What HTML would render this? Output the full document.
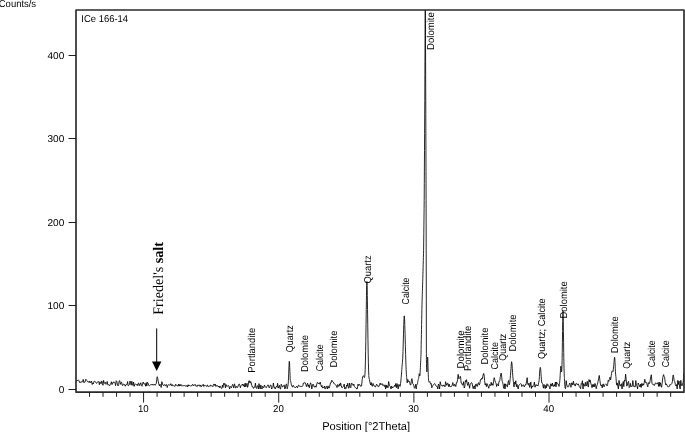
<!DOCTYPE html>
<html><head><meta charset="utf-8"><title>XRD ICe 166-14</title>
<style>
html,body{margin:0;padding:0;background:#fff;overflow:hidden}
svg{display:block}
text{font-family:"Liberation Sans",Arial,sans-serif;font-size:10px;fill:#000;text-rendering:geometricPrecision}
.ax{font-size:11.4px}
.pk{font-size:10px}
.tk{font-size:9.9px}
.fs{font-family:"Liberation Serif","Times New Roman",serif;font-size:14.6px;fill:#000}
</style></head><body>
<svg width="685" height="432" viewBox="0 0 685 432">
<rect width="685" height="432" fill="#fff"/>
<defs><clipPath id="c"><rect x="76" y="10" width="608" height="382.5"/></clipPath></defs>
<g clip-path="url(#c)"><path d="M76.00,380.19 L76.60,381.24 L77.20,380.47 L77.80,380.47 L78.40,379.84 L79.00,380.84 L79.60,382.60 L80.20,381.84 L80.80,382.66 L81.40,381.71 L82.00,381.94 L82.60,381.71 L83.20,379.36 L83.80,382.66 L84.40,382.25 L85.00,382.29 L85.60,379.44 L86.20,379.40 L86.80,380.57 L87.40,381.16 L88.00,382.25 L88.60,381.81 L89.20,382.62 L89.80,381.07 L90.40,382.42 L91.00,382.58 L91.60,381.15 L92.20,384.52 L92.80,382.94 L93.40,383.89 L94.00,381.35 L94.60,381.21 L95.20,381.83 L95.80,382.25 L96.40,383.40 L97.00,382.92 L97.60,381.98 L98.20,381.30 L98.80,382.02 L99.40,384.69 L100.00,381.74 L100.60,383.40 L101.20,383.75 L101.80,380.95 L102.40,383.33 L103.00,385.30 L103.60,380.40 L104.20,383.01 L104.80,383.41 L105.40,382.38 L106.00,384.36 L106.60,383.53 L107.20,381.43 L107.80,384.88 L108.40,384.65 L109.00,385.07 L109.60,385.82 L110.20,384.21 L110.80,383.86 L111.40,381.74 L112.00,384.62 L112.60,382.78 L113.20,383.03 L113.80,381.82 L114.40,382.27 L115.00,382.94 L115.60,385.67 L116.20,380.70 L116.80,381.57 L117.40,384.12 L118.00,385.94 L118.60,384.65 L119.20,380.94 L119.80,380.60 L120.40,384.34 L121.00,382.71 L121.60,382.14 L122.20,385.30 L122.80,385.49 L123.40,384.08 L124.00,384.22 L124.60,384.51 L125.20,386.26 L125.80,384.81 L126.40,384.66 L127.00,384.71 L127.60,381.55 L128.20,385.83 L128.80,385.35 L129.40,384.72 L130.00,380.97 L130.60,382.99 L131.20,385.21 L131.80,381.24 L132.40,383.69 L133.00,385.50 L133.60,382.01 L134.20,386.40 L134.80,384.83 L135.40,383.78 L136.00,384.50 L136.60,385.00 L137.20,384.21 L137.80,385.76 L138.40,383.05 L139.00,383.43 L139.60,385.62 L140.20,384.11 L140.80,382.76 L141.40,385.51 L142.00,386.29 L142.60,383.43 L143.20,382.04 L143.80,383.92 L144.40,383.90 L145.00,383.69 L145.60,386.25 L146.20,382.61 L146.80,386.05 L147.40,382.26 L148.00,382.99 L148.60,385.13 L149.20,385.88 L149.80,385.49 L150.40,384.74 L151.00,384.47 L151.60,384.51 L152.20,385.18 L152.80,384.09 L153.40,384.74 L154.00,385.19 L154.60,384.32 L155.20,385.31 L155.80,384.13 L156.40,383.14 L157.00,377.34 L157.20,376.68 L157.60,377.48 L158.20,381.31 L158.80,383.91 L159.40,385.87 L160.00,384.13 L160.60,385.27 L161.20,387.50 L161.80,381.63 L162.40,383.18 L163.00,385.26 L163.60,385.50 L164.20,385.29 L164.80,384.41 L165.40,385.86 L166.00,385.40 L166.60,384.48 L167.20,387.50 L167.80,385.54 L168.40,384.64 L169.00,385.13 L169.60,385.06 L170.20,385.24 L170.80,383.66 L171.40,385.01 L172.00,386.08 L172.60,384.61 L173.20,385.36 L173.80,386.05 L174.40,385.99 L175.00,386.42 L175.60,384.27 L176.20,385.18 L176.80,385.19 L177.40,385.85 L178.00,386.17 L178.60,383.99 L179.20,386.17 L179.80,384.46 L180.40,385.90 L181.00,384.44 L181.60,385.57 L182.20,386.26 L182.80,385.35 L183.40,385.59 L184.00,386.00 L184.60,385.56 L185.20,385.41 L185.80,386.50 L186.40,386.18 L187.00,385.28 L187.60,386.92 L188.20,384.71 L188.80,386.10 L189.40,385.31 L190.00,385.58 L190.60,385.97 L191.20,385.65 L191.80,385.93 L192.40,384.47 L193.00,384.49 L193.60,385.92 L194.20,384.86 L194.80,384.82 L195.40,384.52 L196.00,386.37 L196.60,386.03 L197.20,386.52 L197.80,384.90 L198.40,385.53 L199.00,384.77 L199.60,386.06 L200.20,386.61 L200.80,384.94 L201.40,386.60 L202.00,386.22 L202.60,385.43 L203.20,384.22 L203.80,386.51 L204.40,385.50 L205.00,385.16 L205.60,385.84 L206.20,385.85 L206.80,386.59 L207.40,384.89 L208.00,386.35 L208.60,386.59 L209.20,386.57 L209.80,385.47 L210.40,385.09 L211.00,386.28 L211.60,385.68 L212.20,385.70 L212.80,386.70 L213.40,385.47 L214.00,383.92 L214.60,385.40 L215.20,384.03 L215.80,386.61 L216.40,386.17 L217.00,385.20 L217.60,385.89 L218.20,386.92 L218.80,386.06 L219.40,387.70 L220.00,385.95 L220.60,387.50 L221.20,388.23 L221.80,388.52 L222.40,385.15 L223.00,387.51 L223.60,383.40 L224.20,384.63 L224.80,383.33 L225.40,387.91 L226.00,384.44 L226.60,386.29 L227.20,386.02 L227.80,386.27 L228.40,385.41 L229.00,386.67 L229.60,389.00 L230.20,386.38 L230.80,387.12 L231.40,387.84 L232.00,386.02 L232.60,384.40 L233.20,385.48 L233.80,387.97 L234.40,383.81 L235.00,385.42 L235.60,387.87 L236.20,387.55 L236.80,386.35 L237.40,387.57 L238.00,386.59 L238.60,384.53 L239.20,383.94 L239.80,385.36 L240.40,387.77 L241.00,385.48 L241.60,384.96 L242.20,385.16 L242.80,383.99 L243.40,386.18 L244.00,384.53 L244.60,386.92 L245.20,383.05 L245.80,386.85 L246.40,385.33 L247.00,383.30 L247.60,387.33 L248.20,385.28 L248.80,380.84 L249.40,380.80 L250.00,383.13 L250.60,381.43 L251.00,381.87 L251.20,382.81 L251.80,385.50 L252.40,386.97 L253.00,386.77 L253.60,388.42 L254.20,387.39 L254.80,387.10 L255.40,383.11 L256.00,387.81 L256.60,388.46 L257.20,385.93 L257.80,385.66 L258.40,389.00 L259.00,383.62 L259.60,387.15 L260.20,389.00 L260.80,384.94 L261.40,387.51 L262.00,389.00 L262.60,386.22 L263.20,387.31 L263.80,387.86 L264.40,384.98 L265.00,386.28 L265.60,386.89 L266.20,387.75 L266.80,386.37 L267.40,386.12 L268.00,384.81 L268.60,385.86 L269.20,387.87 L269.80,386.60 L270.40,385.07 L271.00,385.09 L271.60,389.00 L272.20,388.28 L272.80,387.47 L273.40,383.01 L274.00,387.45 L274.60,387.23 L275.20,389.00 L275.80,387.15 L276.40,386.35 L277.00,387.31 L277.60,383.31 L278.20,388.14 L278.80,386.99 L279.40,385.33 L280.00,388.63 L280.60,389.00 L281.20,384.19 L281.80,385.39 L282.40,386.95 L283.00,386.78 L283.60,385.83 L284.20,384.89 L284.80,389.00 L285.40,388.19 L286.00,384.36 L286.60,384.04 L287.20,388.78 L287.50,387.87 L287.65,387.24 L287.80,386.40 L287.95,385.82 L288.10,384.75 L288.25,383.07 L288.40,380.71 L288.55,377.17 L288.70,373.23 L288.85,369.20 L289.00,365.52 L289.15,362.65 L289.30,361.37 L289.45,361.95 L289.60,364.04 L289.75,367.63 L289.90,371.55 L290.05,375.36 L290.20,378.77 L290.35,380.45 L290.50,381.40 L290.65,381.72 L290.80,381.57 L290.95,382.58 L291.10,383.42 L291.40,384.83 L292.00,386.15 L292.60,387.19 L293.20,385.30 L293.80,386.30 L294.40,387.27 L295.00,387.14 L295.60,387.57 L296.20,386.86 L296.80,385.97 L297.40,387.83 L298.00,386.59 L298.60,385.12 L299.20,385.46 L299.80,386.51 L300.40,386.29 L301.00,386.73 L301.60,386.44 L302.20,386.67 L302.80,385.85 L303.40,383.02 L304.00,383.52 L304.60,382.53 L304.70,382.33 L305.20,382.74 L305.80,384.13 L306.40,386.60 L307.00,384.68 L307.60,383.19 L308.20,386.57 L308.80,384.85 L309.40,387.73 L310.00,384.62 L310.60,382.80 L311.20,384.68 L311.80,389.00 L312.40,385.79 L313.00,384.06 L313.60,385.05 L314.20,387.15 L314.80,386.86 L315.40,385.85 L316.00,387.25 L316.60,384.92 L317.20,382.61 L317.80,382.50 L318.40,383.59 L319.00,383.06 L319.60,384.21 L320.20,382.09 L320.80,384.58 L321.40,386.81 L322.00,385.51 L322.60,388.14 L323.20,387.43 L323.80,388.05 L324.40,386.09 L325.00,389.00 L325.60,388.70 L326.20,386.12 L326.80,386.63 L327.40,389.00 L328.00,385.86 L328.60,387.98 L329.20,388.08 L329.80,386.02 L330.40,382.98 L331.00,383.00 L331.60,380.44 L332.00,380.19 L332.20,380.63 L332.80,381.86 L333.40,382.16 L334.00,383.76 L334.30,383.66 L334.60,383.78 L335.20,384.49 L335.80,385.43 L336.40,385.62 L337.00,387.58 L337.60,384.59 L338.20,385.38 L338.80,386.54 L339.40,383.89 L340.00,385.76 L340.60,382.92 L341.20,385.33 L341.80,387.61 L342.40,387.60 L343.00,386.48 L343.60,386.15 L344.20,384.00 L344.80,389.00 L345.40,387.52 L346.00,388.57 L346.60,384.97 L347.20,386.24 L347.80,383.26 L348.40,388.01 L349.00,388.29 L349.60,383.11 L350.20,386.49 L350.80,387.74 L351.40,383.36 L352.00,383.24 L352.60,384.64 L353.20,385.44 L353.80,384.02 L354.40,386.65 L355.00,387.05 L355.60,387.76 L356.20,387.89 L356.80,389.00 L357.40,388.74 L358.00,384.13 L358.60,385.60 L359.20,384.56 L359.80,384.50 L360.40,386.23 L361.00,386.09 L361.60,385.97 L362.20,379.50 L362.80,376.46 L363.40,375.67 L364.00,376.74 L364.35,377.61 L364.56,377.43 L364.60,377.30 L364.77,376.36 L364.99,373.81 L365.20,369.19 L365.41,361.77 L365.62,351.63 L365.80,341.35 L365.84,339.07 L366.05,324.82 L366.26,309.83 L366.40,300.52 L366.48,295.81 L366.69,285.41 L366.90,281.51 L367.00,282.38 L367.11,285.32 L367.32,295.63 L367.54,309.65 L367.60,314.14 L367.75,324.92 L367.96,339.40 L368.18,351.99 L368.20,353.30 L368.39,362.25 L368.60,370.05 L368.80,375.37 L368.81,375.57 L369.02,378.05 L369.24,379.06 L369.40,379.18 L369.45,379.56 L370.00,382.67 L370.60,384.97 L371.20,382.47 L371.80,385.70 L372.40,386.25 L373.00,383.38 L373.60,385.45 L374.20,385.30 L374.80,386.72 L375.40,386.97 L376.00,385.73 L376.60,384.18 L377.20,385.47 L377.80,385.59 L378.40,387.06 L379.00,386.20 L379.60,384.27 L380.20,383.06 L380.80,384.90 L381.40,384.20 L382.00,383.50 L382.60,385.37 L383.20,384.66 L383.80,385.78 L384.40,386.57 L385.00,384.80 L385.60,389.00 L386.20,384.97 L386.80,387.65 L387.40,385.80 L388.00,387.67 L388.60,381.54 L389.20,384.14 L389.80,386.03 L390.40,386.70 L391.00,389.00 L391.60,386.16 L392.20,387.97 L392.80,387.00 L393.40,387.34 L394.00,386.51 L394.60,385.25 L395.20,386.51 L395.80,383.49 L396.40,387.78 L397.00,383.60 L397.60,386.00 L398.20,389.00 L398.80,384.48 L399.40,384.75 L400.00,386.51 L400.60,383.32 L401.15,378.10 L401.20,377.41 L401.41,375.01 L401.68,371.30 L401.80,369.50 L401.94,367.52 L402.00,366.75 L402.20,364.71 L402.40,362.86 L402.46,362.16 L402.73,358.18 L402.99,351.90 L403.00,351.56 L403.25,343.05 L403.51,333.14 L403.60,329.83 L403.77,324.31 L404.04,318.07 L404.20,316.24 L404.30,315.86 L404.56,318.48 L404.80,324.69 L404.82,325.46 L405.09,334.61 L405.35,344.45 L405.40,346.29 L405.61,354.34 L405.88,362.96 L406.00,366.49 L406.14,369.64 L406.40,374.22 L406.60,376.52 L406.66,377.44 L406.93,380.61 L407.19,382.81 L407.20,382.89 L407.45,381.69 L407.80,379.48 L408.30,381.11 L408.40,381.56 L409.00,380.99 L409.60,382.03 L410.20,384.90 L410.80,384.97 L411.40,380.22 L411.80,378.74 L412.00,378.61 L412.60,383.32 L413.20,384.02 L413.80,385.67 L414.40,388.24 L415.00,387.56 L415.60,384.40 L416.00,387.82 L416.10,388.67 L416.20,389.00 L416.30,388.84 L416.40,387.89 L416.50,386.96 L416.60,386.08 L416.70,385.17 L416.80,384.27 L416.90,384.27 L417.00,384.27 L417.10,384.26 L417.20,384.25 L417.30,384.23 L417.40,384.21 L417.50,383.55 L417.60,382.89 L417.70,382.24 L417.80,381.60 L417.90,380.96 L418.00,380.16 L418.10,379.92 L418.20,379.67 L418.30,379.42 L418.40,379.17 L418.50,378.91 L418.60,378.64 L418.70,377.80 L418.80,376.96 L418.90,376.14 L419.00,375.32 L419.10,374.52 L419.20,373.73 L419.30,374.16 L419.40,374.57 L419.50,374.96 L419.60,375.34 L419.70,375.69 L419.80,376.03 L419.90,375.49 L420.00,374.96 L420.10,373.04 L420.20,371.13 L420.30,369.24 L420.40,367.36 L420.50,365.12 L420.60,362.91 L420.70,360.73 L420.80,358.58 L420.90,356.46 L421.00,354.37 L421.10,349.42 L421.20,344.46 L421.30,339.49 L421.40,334.52 L421.50,329.55 L421.60,324.58 L421.70,319.61 L421.80,314.65 L421.90,309.68 L422.00,304.70 L422.10,301.28 L422.20,297.85 L422.30,294.63 L422.40,291.40 L422.50,288.15 L422.60,284.90 L422.70,281.63 L422.80,278.36 L422.90,274.81 L423.00,271.27 L423.10,267.74 L423.20,264.21 L423.30,260.68 L423.40,257.16 L423.50,253.74 L423.60,250.33 L423.70,242.02 L423.80,233.70 L423.90,225.39 L424.00,217.08 L424.10,208.73 L424.20,200.39 L424.30,183.72 L424.40,167.04 L424.50,150.37 L424.60,133.70 L424.70,117.04 L424.80,100.38 L424.90,74.67 L425.00,48.97 L425.10,23.26 L425.15,10.26 L425.20,-98.07 L425.30,-314.76 L425.40,10.19 L425.50,35.86 L425.60,61.53 L425.70,87.19 L425.75,100.02 L425.80,114.27 L425.90,142.83 L426.00,171.38 L426.10,199.92 L426.20,249.86 L426.30,299.79 L426.39,353.70 L426.40,359.70 L426.50,363.36 L426.50,363.55 L426.60,367.17 L426.65,368.87 L426.70,369.69 L426.70,369.77 L426.80,371.04 L426.81,371.14 L426.90,371.90 L426.92,371.63 L427.00,369.86 L427.02,369.50 L427.10,367.89 L427.12,367.32 L427.20,365.47 L427.23,364.68 L427.30,362.80 L427.33,361.85 L427.40,360.19 L427.44,359.26 L427.50,358.10 L427.55,357.48 L427.60,357.08 L427.65,357.05 L427.70,357.42 L427.75,358.26 L427.80,359.26 L427.86,360.84 L427.90,362.05 L427.96,364.20 L428.00,365.41 L428.07,367.85 L428.10,368.89 L428.18,371.37 L428.20,372.15 L428.28,374.44 L428.30,374.96 L428.38,376.93 L428.40,377.24 L428.49,378.85 L428.50,379.01 L428.60,380.25 L428.60,380.31 L428.70,381.24 L428.80,381.90 L428.81,381.91 L428.90,382.13 L428.91,382.15 L429.00,382.25 L429.10,382.25 L429.20,382.22 L429.30,382.16 L429.40,382.09 L429.50,382.01 L429.60,381.93 L429.70,381.85 L429.80,381.75 L429.90,381.66 L430.00,381.56 L430.10,381.98 L430.20,382.53 L430.30,382.94 L430.40,383.36 L430.50,383.77 L430.60,384.19 L430.70,384.07 L430.80,383.95 L430.90,383.82 L431.20,383.44 L431.80,387.78 L432.40,386.74 L432.60,386.32 L433.00,385.17 L433.60,384.47 L434.20,384.02 L434.80,383.56 L435.40,384.70 L436.00,385.97 L436.60,386.40 L437.20,386.50 L437.80,389.00 L438.40,384.01 L439.00,385.41 L439.60,389.00 L440.20,381.73 L440.80,384.36 L441.40,385.71 L442.00,385.68 L442.60,386.18 L443.20,384.91 L443.80,386.10 L444.40,385.48 L445.00,386.89 L445.60,381.66 L446.20,383.64 L446.80,385.37 L447.40,383.34 L448.00,383.32 L448.60,386.61 L449.20,384.09 L449.80,386.62 L450.40,386.84 L451.00,385.97 L451.60,386.37 L452.20,385.16 L452.80,382.59 L453.40,385.30 L454.00,386.19 L454.60,384.23 L455.20,385.03 L455.80,386.55 L456.40,382.66 L457.00,382.69 L457.60,379.34 L458.00,375.08 L458.20,374.33 L458.80,378.84 L459.40,378.38 L460.00,377.27 L460.20,376.30 L460.60,377.08 L461.20,383.13 L461.80,383.01 L462.40,385.05 L463.00,385.15 L463.60,381.70 L464.20,388.02 L464.80,386.82 L465.40,380.60 L466.00,382.05 L466.40,379.76 L466.60,379.66 L467.20,383.82 L467.80,385.55 L468.40,382.26 L469.00,384.85 L469.60,388.25 L470.20,384.20 L470.80,383.30 L471.40,382.63 L472.00,382.91 L472.60,386.00 L473.20,388.70 L473.80,386.19 L474.40,385.82 L475.00,389.00 L475.60,384.26 L476.20,383.94 L476.80,386.31 L477.40,386.33 L478.00,383.18 L478.60,382.68 L479.20,385.11 L479.80,384.06 L480.40,379.74 L481.00,379.94 L481.50,378.45 L481.60,378.24 L482.20,379.08 L482.80,376.29 L483.40,373.85 L483.70,373.40 L484.00,374.19 L484.60,380.47 L485.20,384.97 L485.80,383.61 L486.40,386.59 L487.00,383.59 L487.60,385.29 L488.20,386.71 L488.80,388.26 L489.40,384.54 L490.00,385.12 L490.60,385.65 L491.20,382.25 L491.80,385.25 L492.40,383.76 L493.00,385.38 L493.60,381.19 L494.20,377.67 L494.70,379.51 L494.80,380.11 L495.40,382.28 L496.00,382.83 L496.60,386.53 L497.20,384.49 L497.80,383.84 L498.40,385.89 L498.60,384.45 L498.80,382.95 L499.00,381.38 L499.20,381.57 L499.40,381.53 L499.60,381.22 L499.80,380.39 L500.00,379.23 L500.20,377.80 L500.40,376.35 L500.60,375.02 L500.80,374.12 L501.00,373.18 L501.20,373.21 L501.40,374.01 L501.60,375.95 L501.80,378.07 L502.00,380.13 L502.20,381.16 L502.40,381.83 L502.60,382.15 L502.80,383.38 L503.00,384.42 L503.20,385.32 L503.40,386.39 L503.80,388.37 L504.40,383.76 L505.00,389.00 L505.60,383.90 L506.20,385.16 L506.80,385.43 L507.40,387.07 L508.00,382.46 L508.60,380.53 L508.75,381.75 L508.99,383.56 L509.20,384.96 L509.23,384.91 L509.46,384.21 L509.70,383.07 L509.80,382.43 L509.94,381.23 L510.18,378.71 L510.40,375.80 L510.41,375.67 L510.65,373.04 L510.89,370.13 L511.00,368.80 L511.12,366.65 L511.36,363.40 L511.60,361.71 L511.84,362.62 L512.08,364.99 L512.20,366.64 L512.31,368.37 L512.55,372.25 L512.79,376.05 L512.80,376.23 L513.02,378.76 L513.26,380.81 L513.40,381.69 L513.50,382.75 L513.74,384.97 L513.98,386.80 L514.00,386.98 L514.21,385.47 L514.45,383.53 L514.60,382.22 L515.20,384.16 L515.80,380.73 L516.40,386.70 L517.00,384.36 L517.60,387.14 L518.20,389.00 L518.80,385.25 L519.40,384.74 L520.00,384.24 L520.60,383.56 L521.20,383.98 L521.80,386.55 L522.40,385.33 L523.00,385.35 L523.60,384.85 L524.20,387.04 L524.80,386.12 L525.40,384.55 L526.00,384.85 L526.60,380.67 L527.10,377.87 L527.20,377.66 L527.80,384.51 L528.40,385.07 L529.00,383.05 L529.60,387.33 L530.20,385.88 L530.80,382.01 L531.40,388.52 L532.00,385.92 L532.60,387.06 L533.20,385.64 L533.80,384.93 L534.40,382.07 L535.00,387.22 L535.60,385.19 L536.20,384.52 L536.80,385.77 L537.40,385.13 L538.00,386.06 L538.20,385.13 L538.40,384.07 L538.60,382.82 L538.80,382.17 L539.00,381.13 L539.20,379.64 L539.40,376.44 L539.60,373.09 L539.80,369.75 L540.00,368.33 L540.20,367.41 L540.40,367.49 L540.60,368.57 L540.80,370.73 L541.00,373.58 L541.20,376.49 L541.40,379.35 L541.60,381.94 L541.80,382.75 L542.00,383.02 L542.20,382.83 L542.40,383.55 L542.60,384.07 L542.80,384.45 L543.40,388.17 L544.00,384.38 L544.60,386.58 L545.20,388.66 L545.80,385.30 L546.40,387.74 L547.00,383.76 L547.60,385.64 L548.20,385.05 L548.80,385.45 L549.40,387.53 L550.00,389.00 L550.60,383.84 L551.20,384.03 L551.80,386.23 L552.40,383.04 L553.00,386.23 L553.60,386.38 L554.20,384.63 L554.80,386.30 L555.40,382.01 L556.00,386.77 L556.60,382.01 L557.20,383.76 L557.80,383.91 L558.40,384.15 L559.00,386.47 L559.10,386.10 L559.25,385.45 L559.40,384.66 L559.55,383.19 L559.60,382.77 L559.70,381.91 L559.85,380.29 L560.00,378.22 L560.15,375.72 L560.20,374.81 L560.30,373.23 L560.45,370.74 L560.60,368.41 L560.75,366.69 L560.80,366.34 L560.90,366.08 L561.05,366.79 L561.20,368.51 L561.26,369.34 L561.35,370.61 L561.40,371.27 L561.40,371.31 L561.50,371.83 L561.55,371.94 L561.65,371.72 L561.70,371.39 L561.80,369.97 L561.84,369.16 L561.95,366.13 L561.99,364.91 L562.00,364.34 L562.10,360.31 L562.13,358.89 L562.25,352.30 L562.27,350.76 L562.40,342.40 L562.42,340.98 L562.55,331.58 L562.57,330.50 L562.60,328.02 L562.70,321.41 L562.71,320.81 L562.86,313.71 L563.00,311.15 L563.14,314.07 L563.20,316.48 L563.29,321.45 L563.43,331.40 L563.58,342.20 L563.73,352.49 L563.80,357.31 L563.87,361.31 L564.01,368.15 L564.16,373.01 L564.30,376.11 L564.40,377.37 L564.45,378.55 L564.60,381.65 L564.74,384.15 L565.00,387.95 L565.60,388.69 L566.20,380.64 L566.80,385.10 L567.40,386.05 L568.00,387.18 L568.60,386.57 L569.20,384.62 L569.80,382.99 L570.40,385.39 L571.00,387.32 L571.60,382.92 L572.20,383.04 L572.80,385.12 L573.40,381.15 L574.00,384.63 L574.60,384.27 L575.20,386.11 L575.80,383.71 L576.40,383.33 L577.00,384.35 L577.60,385.06 L578.20,383.78 L578.80,385.19 L579.40,386.73 L580.00,387.63 L580.60,388.71 L581.20,383.53 L581.80,384.29 L582.40,380.71 L583.00,389.00 L583.60,383.65 L584.20,385.09 L584.80,386.25 L585.40,382.32 L586.00,386.08 L586.60,385.05 L587.20,381.27 L587.80,385.61 L588.40,387.07 L589.00,379.54 L589.60,381.89 L590.00,380.20 L590.20,380.13 L590.80,383.21 L591.40,385.19 L592.00,387.64 L592.60,384.59 L593.20,386.91 L593.80,384.24 L594.40,386.67 L595.00,383.43 L595.60,384.91 L596.20,388.68 L596.80,385.94 L597.40,384.55 L598.00,381.69 L598.60,378.80 L599.20,375.46 L599.30,375.48 L599.80,379.78 L600.40,383.98 L601.00,385.83 L601.60,384.90 L602.20,387.87 L602.80,384.24 L603.40,383.97 L604.00,386.95 L604.60,385.21 L605.20,384.48 L605.80,383.83 L606.40,384.35 L607.00,385.95 L607.60,384.72 L608.20,380.29 L608.80,381.37 L609.30,379.59 L609.40,379.36 L609.50,378.92 L609.55,378.56 L609.80,377.72 L610.00,377.15 L610.05,377.43 L610.30,378.74 L610.55,379.78 L610.60,379.94 L610.80,378.83 L611.05,377.06 L611.20,375.83 L611.30,375.21 L611.55,373.51 L611.80,371.80 L612.05,371.05 L612.26,370.85 L612.30,370.86 L612.40,370.97 L612.48,371.02 L612.55,371.10 L612.69,371.33 L612.80,371.52 L612.90,371.65 L613.00,371.70 L613.05,371.41 L613.11,370.99 L613.30,369.45 L613.33,369.21 L613.54,366.75 L613.55,366.60 L613.60,365.92 L613.75,364.67 L613.80,364.19 L613.96,362.54 L614.05,361.62 L614.17,360.41 L614.20,360.19 L614.30,359.00 L614.39,358.18 L614.55,357.34 L614.60,357.28 L614.80,358.03 L614.81,358.21 L615.02,362.16 L615.05,362.71 L615.24,367.15 L615.30,368.71 L615.40,371.30 L615.45,371.99 L615.66,374.68 L615.88,376.58 L616.00,377.28 L616.09,378.66 L616.30,381.66 L616.51,384.19 L616.60,385.11 L616.73,384.87 L616.94,384.15 L617.15,383.17 L617.20,382.92 L617.80,386.30 L618.40,389.00 L619.00,380.42 L619.60,384.03 L620.20,386.16 L620.80,384.90 L621.40,383.68 L622.00,389.00 L622.60,385.18 L623.20,381.49 L623.80,386.58 L624.40,380.14 L625.00,381.19 L625.60,374.13 L626.20,379.46 L626.80,386.11 L627.40,385.03 L628.00,382.01 L628.60,381.41 L629.20,387.60 L629.80,386.66 L630.40,383.35 L631.00,386.91 L631.60,386.14 L632.20,386.46 L632.80,380.54 L633.40,384.44 L634.00,387.00 L634.60,386.64 L635.20,386.96 L635.80,380.53 L636.40,385.44 L637.00,386.12 L637.60,389.00 L638.20,383.04 L638.80,384.37 L639.40,385.15 L640.00,386.96 L640.60,384.12 L641.20,387.52 L641.80,383.35 L642.40,385.59 L643.00,383.86 L643.60,385.19 L644.20,382.77 L644.80,379.31 L645.40,382.54 L645.50,382.19 L646.00,382.15 L646.60,382.53 L647.20,385.05 L647.80,386.90 L648.40,382.60 L649.00,383.79 L649.60,383.28 L650.20,380.23 L650.80,376.52 L650.90,375.98 L651.40,374.75 L652.00,383.69 L652.60,384.27 L653.20,384.60 L653.80,384.26 L654.40,385.50 L655.00,384.05 L655.60,382.78 L656.20,383.41 L656.80,383.76 L657.40,383.72 L658.00,382.55 L658.60,386.41 L659.20,382.15 L659.80,386.35 L660.40,382.72 L661.00,385.55 L661.60,387.24 L662.20,383.09 L662.80,377.63 L663.40,374.96 L663.60,374.62 L664.00,376.16 L664.60,377.21 L665.20,382.22 L665.80,384.92 L666.40,383.83 L667.00,385.08 L667.60,386.52 L668.20,386.61 L668.80,386.98 L669.40,386.24 L670.00,384.33 L670.60,384.87 L671.20,384.22 L671.80,383.57 L672.40,381.66 L673.00,375.05 L673.40,375.21 L673.60,376.36 L674.20,380.70 L674.80,381.73 L675.40,384.65 L676.00,385.99 L676.60,384.57 L677.20,389.00 L677.80,380.38 L678.40,384.56 L679.00,381.05 L679.60,387.13 L680.20,389.00 L680.80,380.32 L681.40,385.18 L682.00,385.93 L682.60,383.60 L683.20,382.45 L683.80,373.11 L684.00,374.18" fill="none" stroke="#000" stroke-width="0.85" stroke-linejoin="round"/></g>
<path d="M76,10H684V392.15H76Z" fill="none" stroke="#2a2a2a" stroke-width="1.65" stroke-linejoin="round"/>
<path d="M89.52,392.2V396.8M103.03,392.2V396.8M116.55,392.2V396.8M130.06,392.2V396.8M143.57,392.2V402.6M157.09,392.2V396.8M170.61,392.2V396.8M184.12,392.2V396.8M197.63,392.2V396.8M211.15,392.2V396.8M224.67,392.2V396.8M238.18,392.2V396.8M251.69,392.2V396.8M265.21,392.2V396.8M278.73,392.2V402.6M292.24,392.2V396.8M305.75,392.2V396.8M319.27,392.2V396.8M332.79,392.2V396.8M346.30,392.2V396.8M359.81,392.2V396.8M373.33,392.2V396.8M386.85,392.2V396.8M400.36,392.2V396.8M413.88,392.2V402.6M427.39,392.2V396.8M440.91,392.2V396.8M454.42,392.2V396.8M467.94,392.2V396.8M481.45,392.2V396.8M494.97,392.2V396.8M508.48,392.2V396.8M522.00,392.2V396.8M535.51,392.2V396.8M549.03,392.2V402.6M562.54,392.2V396.8M576.06,392.2V396.8M589.57,392.2V396.8M603.09,392.2V396.8M616.60,392.2V396.8M630.12,392.2V396.8M643.63,392.2V396.8M657.14,392.2V396.8M670.66,392.2V396.8M68.5,389.5H76M68.5,305.5H76M68.5,222.5H76M68.5,138.5H76M68.5,55.5H76" fill="none" stroke="#151515" stroke-width="0.95"/>
<g><text transform="translate(255,372.7) rotate(-90)" class="pk" textLength="44.9" lengthAdjust="spacingAndGlyphs">Portlandite</text><text transform="translate(293,352.2) rotate(-90)" class="pk" textLength="26.9" lengthAdjust="spacingAndGlyphs">Quartz</text><text transform="translate(308,372.1) rotate(-90)" class="pk" textLength="37.0" lengthAdjust="spacingAndGlyphs">Dolomite</text><text transform="translate(323,371.3) rotate(-90)" class="pk" textLength="26.9" lengthAdjust="spacingAndGlyphs">Calcite</text><text transform="translate(337,367.6) rotate(-90)" class="pk" textLength="37.0" lengthAdjust="spacingAndGlyphs">Dolomite</text><text transform="translate(371,283.4) rotate(-90)" class="pk" textLength="28.0" lengthAdjust="spacingAndGlyphs">Quartz</text><text transform="translate(409,304.4) rotate(-90)" class="pk" textLength="26.9" lengthAdjust="spacingAndGlyphs">Calcite</text><text transform="translate(434,49.9) rotate(-90)" class="pk" textLength="37.7" lengthAdjust="spacingAndGlyphs">Dolomite</text><text transform="translate(464,368.4) rotate(-90)" class="pk" textLength="38.0" lengthAdjust="spacingAndGlyphs">Dolomite</text><text transform="translate(471,371.0) rotate(-90)" class="pk" textLength="45.3" lengthAdjust="spacingAndGlyphs">Portlandite</text><text transform="translate(488,364.6) rotate(-90)" class="pk" textLength="37.0" lengthAdjust="spacingAndGlyphs">Dolomite</text><text transform="translate(498,369.4) rotate(-90)" class="pk" textLength="27.4" lengthAdjust="spacingAndGlyphs">Calcite</text><text transform="translate(506,360.7) rotate(-90)" class="pk" textLength="26.9" lengthAdjust="spacingAndGlyphs">Quartz</text><text transform="translate(516,351.5) rotate(-90)" class="pk" textLength="37.0" lengthAdjust="spacingAndGlyphs">Dolomite</text><text transform="translate(545,359.0) rotate(-90)" class="pk" textLength="60.7" lengthAdjust="spacingAndGlyphs">Quartz; Calcite</text><text transform="translate(567,318.4) rotate(-90)" class="pk" textLength="37.0" lengthAdjust="spacingAndGlyphs">Dolomite</text><text transform="translate(618,353.3) rotate(-90)" class="pk" textLength="37.0" lengthAdjust="spacingAndGlyphs">Dolomite</text><text transform="translate(630,368.7) rotate(-90)" class="pk" textLength="26.9" lengthAdjust="spacingAndGlyphs">Quartz</text><text transform="translate(655,367.3) rotate(-90)" class="pk" textLength="26.9" lengthAdjust="spacingAndGlyphs">Calcite</text><text transform="translate(669,367.3) rotate(-90)" class="pk" textLength="26.9" lengthAdjust="spacingAndGlyphs">Calcite</text></g>
<g><text class="tk" transform="translate(143.27,412.1) scale(0.98,1)" text-anchor="middle">10</text><text class="tk" transform="translate(278.43,412.1) scale(0.98,1)" text-anchor="middle">20</text><text class="tk" transform="translate(413.57,412.1) scale(0.98,1)" text-anchor="middle">30</text><text class="tk" transform="translate(548.73,412.1) scale(0.98,1)" text-anchor="middle">40</text><text class="tk" transform="translate(64.3,392.80) scale(1.02,1)" text-anchor="end">0</text><text class="tk" transform="translate(64.3,309.28) scale(1.02,1)" text-anchor="end">100</text><text class="tk" transform="translate(64.3,225.76) scale(1.02,1)" text-anchor="end">200</text><text class="tk" transform="translate(64.3,142.24) scale(1.02,1)" text-anchor="end">300</text><text class="tk" transform="translate(64.3,58.72) scale(1.02,1)" text-anchor="end">400</text></g>
<text transform="translate(-1.2,6.6) scale(0.945,1)">Counts/s</text>
<text transform="translate(81.3,22.2) scale(0.945,1)">ICe 166-14</text>
<text class="ax" transform="translate(322.2,429.9) scale(0.975,1)">Position [°2Theta]</text>
<text class="fs" transform="translate(163.0,314.8) rotate(-90) scale(0.968,1)">Friedel's <tspan font-weight="bold">salt</tspan></text>
<path d="M156.7,328.4V362" stroke="#000" stroke-width="1" fill="none"/>
<path d="M152,361.5H161.4L156.7,371Z" fill="#000"/>
</svg>
</body></html>
